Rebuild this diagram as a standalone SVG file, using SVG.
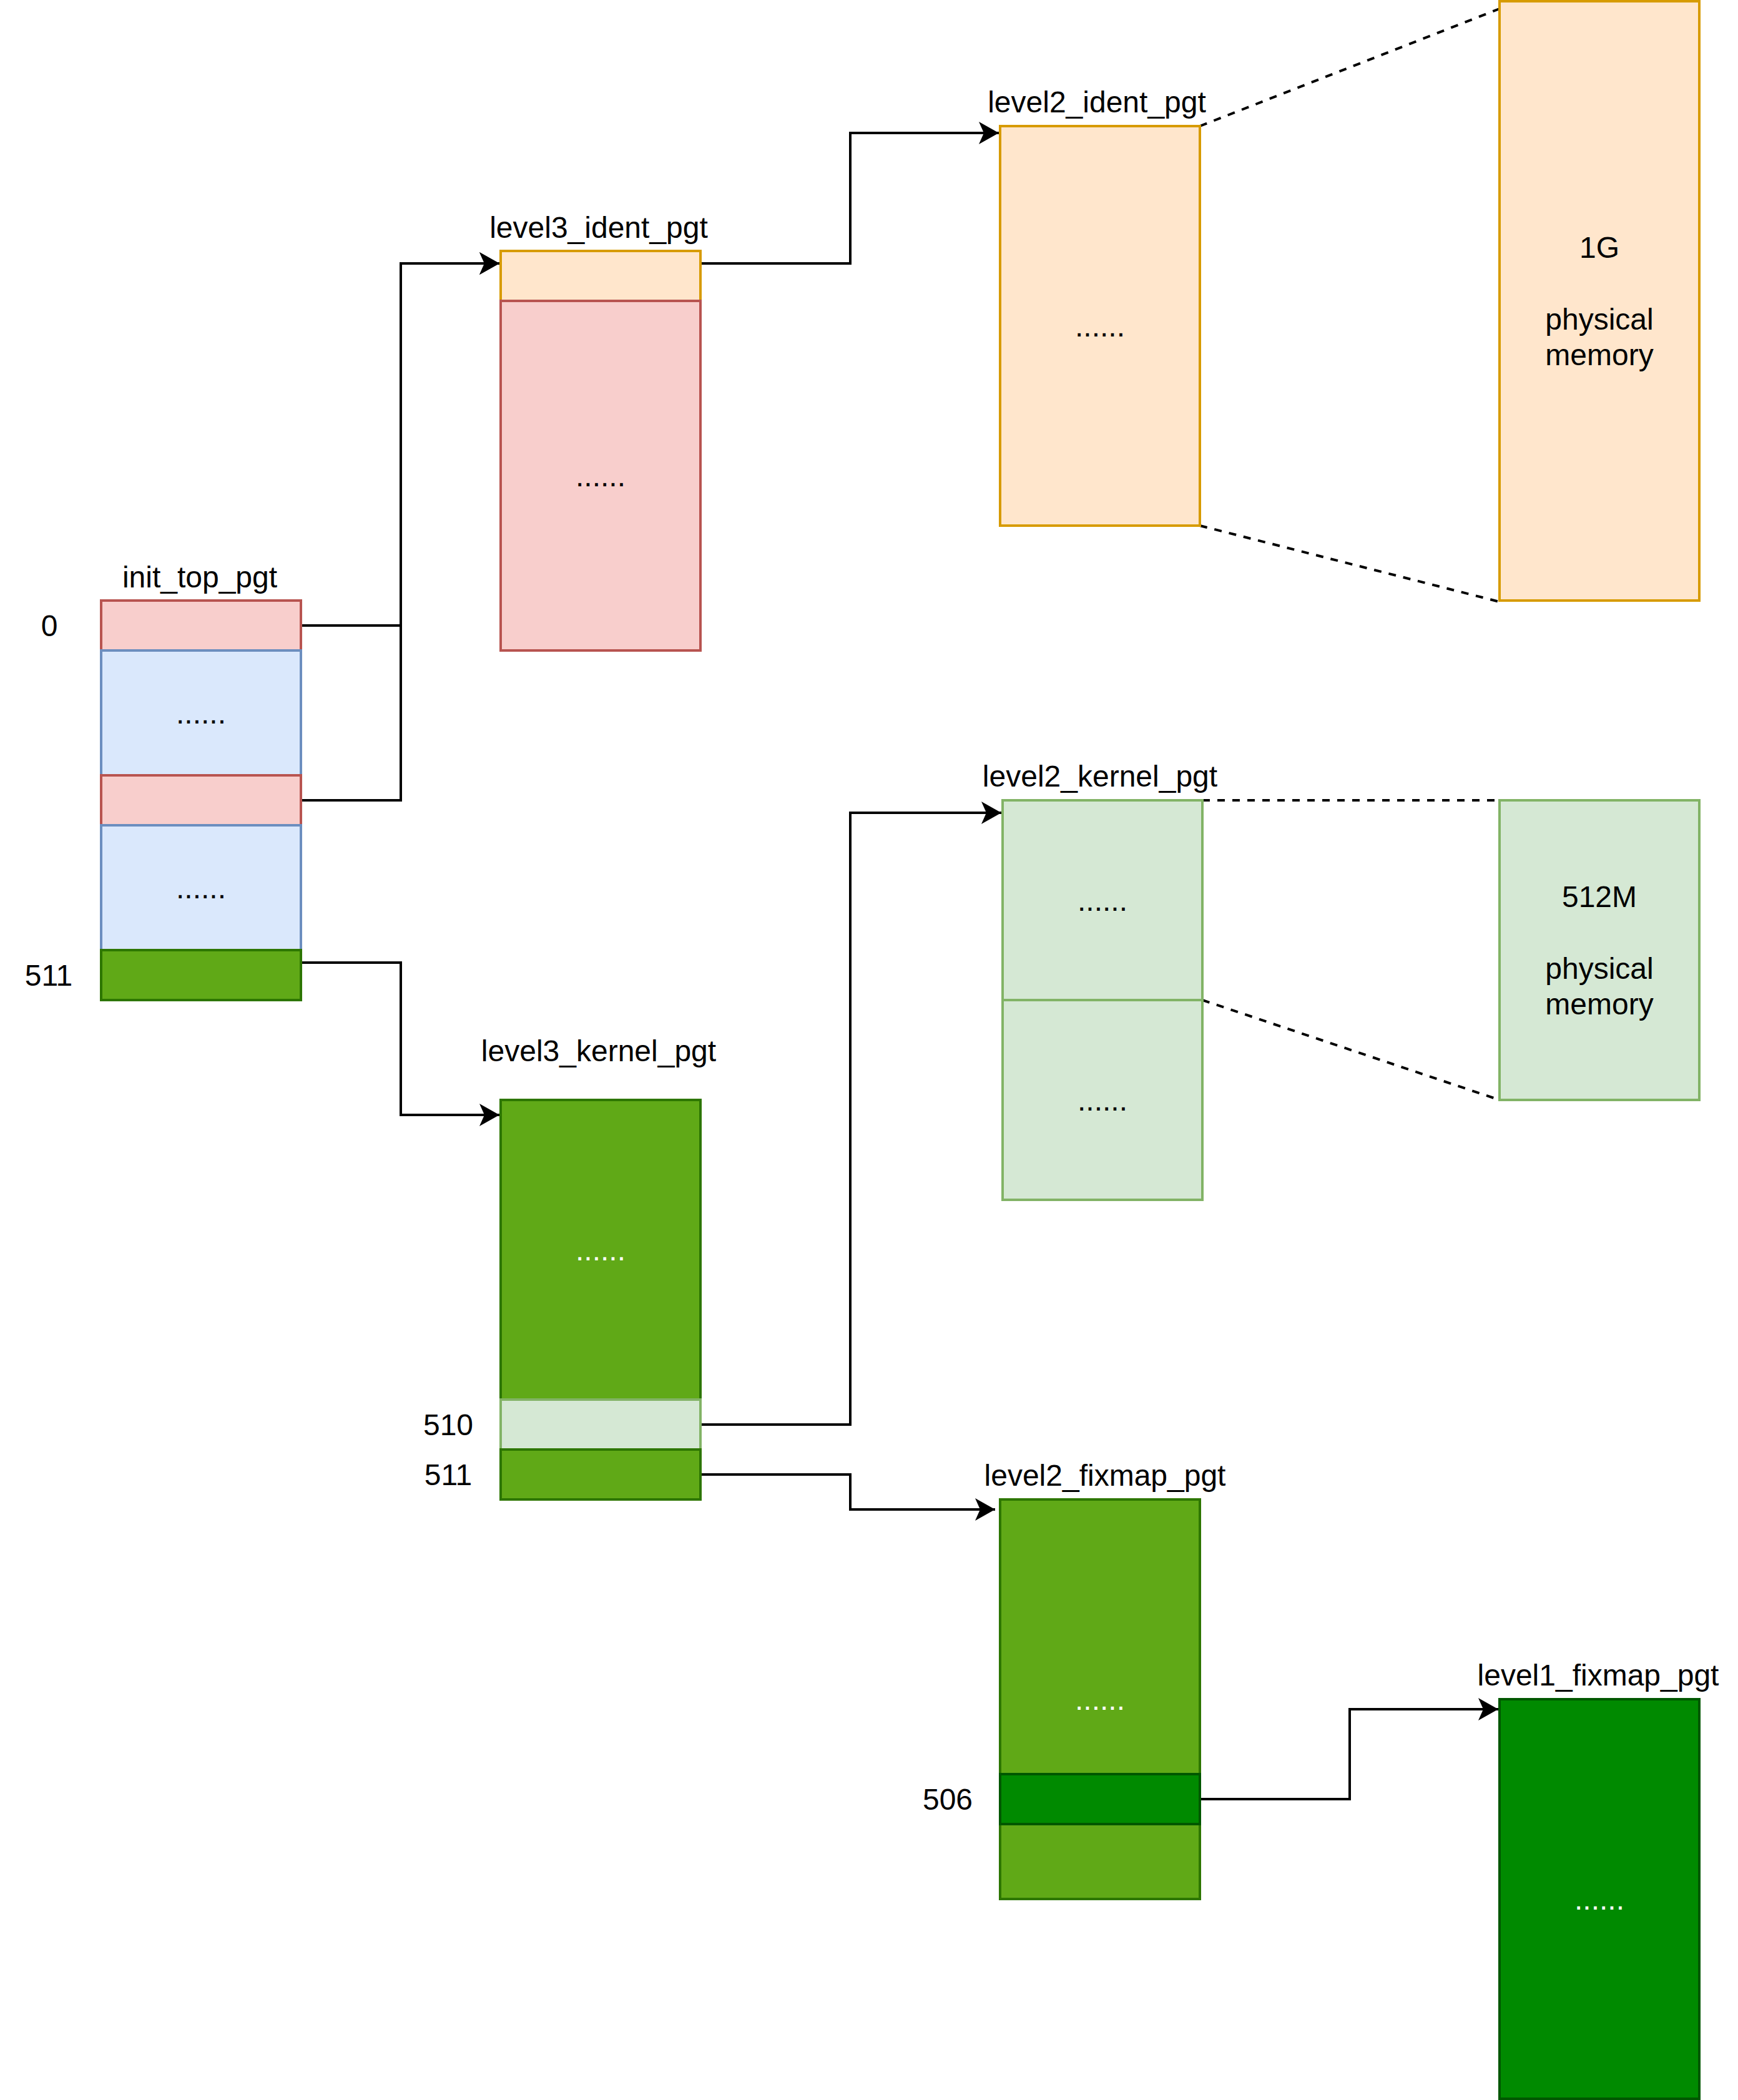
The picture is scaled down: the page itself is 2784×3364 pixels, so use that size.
<svg xmlns="http://www.w3.org/2000/svg" width="2784" height="3364" viewBox="0 0 2784 3364">
<style>
text{font-family:"Liberation Sans",Arial,Helvetica,sans-serif;font-size:48px;fill:#000;text-anchor:middle}
.w{fill:#fff}
rect{stroke-width:4}
.red{fill:#f8cecc;stroke:#b85450}
.blue{fill:#dae8fc;stroke:#6c8ebf}
.green{fill:#60a917;stroke:#2d7600}
.orange{fill:#ffe6cc;stroke:#d79b00}
.lgreen{fill:#d5e8d4;stroke:#82b366}
.dgreen{fill:#008a00;stroke:#005700}
.edge{fill:none;stroke:#000;stroke-width:4;marker-end:url(#arrow)}
.dash{fill:none;stroke:#000;stroke-width:4;stroke-dasharray:12 12}
</style>
<defs>
<marker id="arrow" markerUnits="userSpaceOnUse" viewBox="-34 -20 36 40" markerWidth="36" markerHeight="40" refX="0" refY="0" orient="auto">
<path d="M0,0 L-32,-18 L-24,0 L-32,18 Z" fill="#000"/>
</marker>
</defs>
<rect width="2784" height="3364" fill="#fff"/>

<g id="connectors">
<path class="edge" d="M482,1002 H642 V422 H800"/>
<path class="edge" d="M482,1282 H642 V422 H800"/>
<path class="edge" d="M482,1542 H642 V1786 H800"/>
<path class="edge" d="M1122,422 H1362 V213 H1600"/>
<path class="edge" d="M1122,2282 H1362 V1302 H1604"/>
<path class="edge" d="M1122,2362 H1362 V2418 H1594"/>
<path class="edge" d="M1922,2882 H2162 V2738 H2400"/>
<path class="dash" d="M1922,202 L2402,14"/>
<path class="dash" d="M1922,842 L2402,964"/>
<path class="dash" d="M1926,1282 H2402"/>
<path class="dash" d="M1926,1602 L2402,1762"/>
</g>

<g id="init_top_pgt">
<text x="320" y="941">init_top_pgt</text>
<rect class="red" x="162" y="962" width="320" height="80"/>
<rect class="blue" x="162" y="1042" width="320" height="200"/>
<rect class="red" x="162" y="1242" width="320" height="80"/>
<rect class="blue" x="162" y="1322" width="320" height="200"/>
<rect class="green" x="162" y="1522" width="320" height="80"/>
<text x="322" y="1159">......</text>
<text x="322" y="1439">......</text>
<text x="79" y="1019">0</text>
<text x="78" y="1579">511</text>
</g>

<g id="level3_ident_pgt">
<text x="959" y="381">level3_ident_pgt</text>
<rect class="orange" x="802" y="402" width="320" height="80"/>
<rect class="red" x="802" y="482" width="320" height="560"/>
<text x="962" y="779">......</text>
</g>

<g id="level2_ident_pgt">
<text x="1757" y="180">level2_ident_pgt</text>
<rect class="orange" x="1602" y="202" width="320" height="640"/>
<text x="1762" y="539">......</text>
</g>

<g id="phys_1g">
<rect class="orange" x="2402" y="2" width="320" height="960"/>
<text x="2562" y="413">1G</text>
<text x="2562" y="528">physical</text>
<text x="2562" y="585">memory</text>
</g>

<g id="level2_kernel_pgt">
<text x="1762" y="1260">level2_kernel_pgt</text>
<rect class="lgreen" x="1606" y="1282" width="320" height="320"/>
<rect class="lgreen" x="1606" y="1602" width="320" height="320"/>
<text x="1766" y="1459">......</text>
<text x="1766" y="1779">......</text>
</g>

<g id="phys_512m">
<rect class="lgreen" x="2402" y="1282" width="320" height="480"/>
<text x="2562" y="1453">512M</text>
<text x="2562" y="1568">physical</text>
<text x="2562" y="1625">memory</text>
</g>

<g id="level3_kernel_pgt">
<text x="959" y="1700">level3_kernel_pgt</text>
<rect class="green" x="802" y="1762" width="320" height="480"/>
<rect class="lgreen" x="802" y="2242" width="320" height="80"/>
<rect class="green" x="802" y="2322" width="320" height="80"/>
<text class="w" x="962" y="2019">......</text>
<text x="718" y="2299">510</text>
<text x="718" y="2379">511</text>
</g>

<g id="level2_fixmap_pgt">
<text x="1770" y="2380">level2_fixmap_pgt</text>
<rect class="green" x="1602" y="2402" width="320" height="640"/>
<rect class="dgreen" x="1602" y="2842" width="320" height="80"/>
<text class="w" x="1762" y="2739">......</text>
<text x="1518" y="2899">506</text>
</g>

<g id="level1_fixmap_pgt">
<text x="2560" y="2700">level1_fixmap_pgt</text>
<rect class="dgreen" x="2402" y="2722" width="320" height="640"/>
<text class="w" x="2562" y="3059">......</text>
</g>
</svg>
